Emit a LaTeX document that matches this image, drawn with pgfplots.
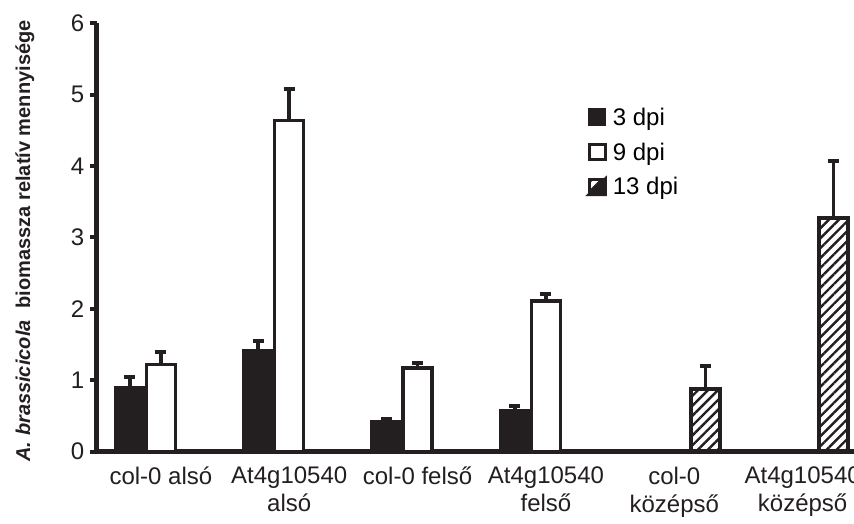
\documentclass[border=0pt]{standalone}
\usepackage{pgfplots}
\pgfplotsset{compat=1.18}
\usepackage{fontspec}
\setmainfont{Liberation Sans}
\usetikzlibrary{patterns.meta}
\definecolor{mk}{RGB}{35,31,32}
\begin{document}
\begin{tikzpicture}
\path[use as bounding box, clip] (-96.7pt,-72.3pt) rectangle (757.3pt,451.7pt);
\begin{axis}[
  at={(0pt,0pt)}, anchor=south west,
  scale only axis,
  width=757.3pt, height=428.4pt,
  xmin=-0.5, xmax=5.4,
  ymin=0, ymax=6,
  ytick={0,1,2,3,4,5,6},
  xtick={0,1,2,3,4,5},
  xticklabels={col-0 alsó, At4g10540\\alsó, col-0 felső, At4g10540\\felső, col-0\\középső, At4g10540\\középső},
  extra x ticks={-0.5,0.5,1.5,2.5,3.5,4.5},
  extra x tick labels={},
  extra x tick style={major tick length=7pt, tick align=outside, tick style={line width=4pt, color=mk}},
  x tick style={draw=none},
  axis x line*=bottom, axis y line*=left,
  axis line style={line width=4.5pt, color=mk, -},
  x axis line style={line width=4.5pt},
  y axis line style={line width=4.5pt},
  y tick style={line width=4pt, color=mk},
  tick align=outside,
  major tick length=7pt,
  /pgf/number format/assume math mode=true,
  tick label style={font=\fontsize{24}{28}\selectfont, color=mk},
  xticklabel style={align=center, yshift=-5pt},
  yticklabel style={xshift=-2pt},
  ylabel={\textit{A. brassicicola}\hspace{0.6em}biomassza relatív mennyisége},
  ylabel style={at={(axis description cs:-0.1077,0.492)}, anchor=north, inner sep=0pt, font=\fontsize{20}{24}\selectfont\bfseries, color=mk},
  ybar=2pt, bar width=29pt,
  legend style={at={(rel axis cs:0.648,0.808)}, anchor=north west, draw=none, fill=none,
    font=\fontsize{24}{28}\selectfont, row sep=12pt, inner sep=0pt,
    /tikz/every odd column/.append style={column sep=4pt}},
  legend cell align=left,
  clip=false,
]
\addplot[fill=mk, draw=mk, line width=3.5pt,
  legend image code/.code={\draw[fill=mk, draw=mk, line width=2.5pt] (1.25pt,-7.5pt) rectangle (17pt,7.5pt);},
  error bars/.cd, y dir=plus, y explicit,
  error bar style={line width=3.5pt, color=mk},
  error mark options={rotate=90, mark size=5.5pt, line width=4pt, color=mk}]
  coordinates {(0,0.90) +- (0,0.14) (1,1.41) +- (0,0.14) (2,0.42) +- (0,0.04) (3,0.57) +- (0,0.07)};
\addlegendentry{3 dpi}
\addplot[fill=white, draw=mk, line width=3.5pt,
  legend image code/.code={\draw[fill=white, draw=mk, line width=3pt] (1.25pt,-7.5pt) rectangle (17pt,7.5pt);},
  error bars/.cd, y dir=plus, y explicit,
  error bar style={line width=3.5pt, color=mk},
  error mark options={rotate=90, mark size=5.5pt, line width=4pt, color=mk}]
  coordinates {(0,1.22) +- (0,0.18) (1,4.64) +- (0,0.44) (2,1.17) +- (0,0.07) (3,2.11) +- (0,0.10)};
\addlegendentry{9 dpi}
\addplot[draw=mk, line width=3.5pt, pattern={Lines[angle=45,distance=7pt,line width=2.4pt]}, pattern color=mk,
  legend image code/.code={\draw[fill=white, draw=mk, line width=3pt] (1.25pt,-7.5pt) rectangle (17pt,7.5pt); \fill[mk] (1.25pt,-7.5pt) -- (17pt,7.5pt) -- (17pt,-7.5pt) -- cycle; \draw[draw=mk, line width=3pt] (1.25pt,-7.5pt) rectangle (17pt,7.5pt);},
  error bars/.cd, y dir=plus, y explicit,
  error bar style={line width=3.5pt, color=mk},
  error mark options={rotate=90, mark size=5.5pt, line width=4pt, color=mk}]
  coordinates {(4,0.88) +- (0,0.32) (5,3.27) +- (0,0.80)};
\addlegendentry{13 dpi}
\end{axis}
\end{tikzpicture}
\end{document}
